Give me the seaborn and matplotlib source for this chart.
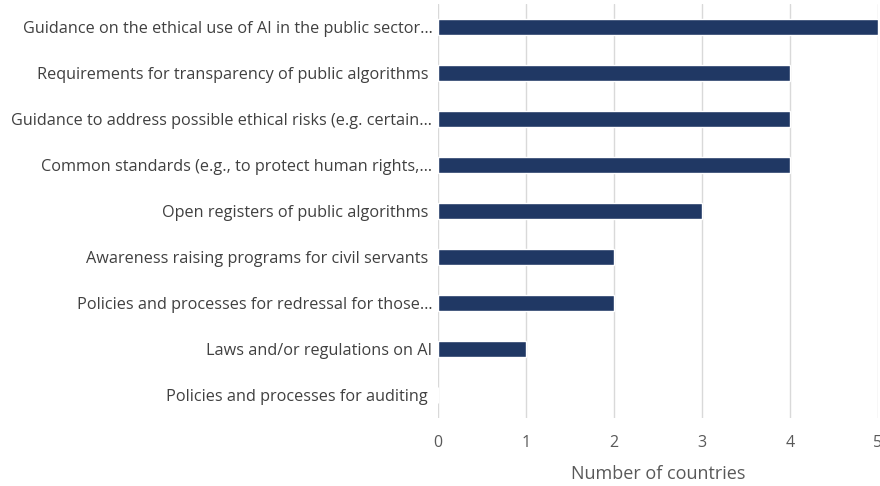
import pandas as pd
import matplotlib
matplotlib.use("Agg")
import matplotlib.pyplot as plt
import seaborn as sns

# data
measures = [
    "Guidance on the ethical use of AI in the public sector…",
    "Requirements for transparency of public algorithms ",
    "Guidance to address possible ethical risks (e.g. certain…",
    "Common standards (e.g., to protect human rights,…",
    "Open registers of public algorithms ",
    "Awareness raising programs for civil servants ",
    "Policies and processes for redressal for those…",
    "Laws and/or regulations on AI",
    "Policies and processes for auditing ",
]
countries = [5, 4, 4, 4, 3, 2, 2, 1, 0]

df = pd.DataFrame({"measure": measures, "countries": countries})

sns.set_style("white")
plt.rcParams["font.family"] = ["Open Sans", "DejaVu Sans"]

fig = plt.figure(figsize=(8.8, 4.86), dpi=100)
ax = fig.add_axes([0.4977, 0.14, 0.5, 0.852])

sns.barplot(data=df, y="measure", x="countries", orient="h",
            color="#203864", saturation=1, width=0.35, ax=ax)

ax.set_xlim(0, 5)
ax.set_xticks(range(6))
ax.grid(axis="x", color="#d9d9d9", linewidth=1)
ax.set_axisbelow(True)
for s in ax.spines.values():
    s.set_visible(False)

ax.tick_params(axis="y", length=0, pad=4, labelsize=11.7, labelcolor="#404040")
ax.tick_params(axis="x", length=0, pad=12, labelsize=11.5, labelcolor="#595959")
ax.set_ylabel("")
ax.set_xlabel("Number of countries", fontsize=13, color="#595959", labelpad=10)

fig.savefig("out.png", dpi=100)
